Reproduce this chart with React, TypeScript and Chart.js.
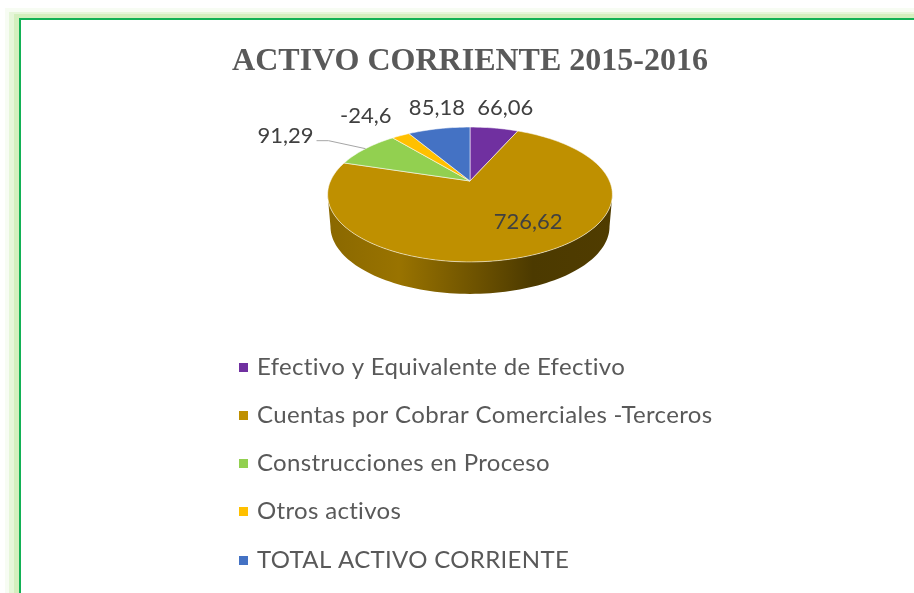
import React, { useEffect, useRef } from "react";
import { Chart, registerables, PieController, ArcElement } from "chart.js";

const TITLE = "ACTIVO CORRIENTE 2015-2016";
const categories = [
  "Efectivo y Equivalente de Efectivo",
  "Cuentas por Cobrar Comerciales -Terceros",
  "Construcciones en Proceso",
  "Otros activos",
  "TOTAL ACTIVO CORRIENTE",
];
const values = [66.06, 726.62, 91.29, -24.6, 85.18];
const colors = ["#7030A0", "#BF9000", "#92D050", "#FFC000", "#4472C4"];
const labelOffsets = [[11, -20], [-12.5, -31], [-80, -12.6], [-35, -20], [-2, -20.6]];

const PERSPECTIVE = 0.2;
const SQUASH = 0.464;
const DEPTH = 32;
const BOTTOM_SHRINK = 0.98;
const wallShades: [number, number][] = [[0, 0.72], [0.25, 0.8], [0.55, 0.55], [0.72, 0.4], [1, 0.42]];

function project(el: any, a: number, r = 1, depth = 0) {
  const u = r * Math.cos(a), v = r * Math.sin(a), w = 1 - PERSPECTIVE * v;
  const s = depth ? BOTTOM_SHRINK : 1;
  return { x: el.x + (el.outerRadius * u * s) / w, y: el.y + (SQUASH * el.outerRadius * v) / w + depth };
}
function traceArc(ctx: CanvasRenderingContext2D, el: any, a0: number, a1: number, depth: number, move: boolean) {
  const n = Math.max(2, Math.ceil(Math.abs(a1 - a0) / 0.03));
  for (let i = 0; i <= n; i++) {
    const p = project(el, a0 + ((a1 - a0) * i) / n, 1, depth);
    if (i === 0 && move) ctx.moveTo(p.x, p.y);
    else ctx.lineTo(p.x, p.y);
  }
}
function shade(hex: string, f: number) {
  const n = parseInt(hex.slice(1), 16);
  return `rgb(${((n >> 16) & 255) * f},${((n >> 8) & 255) * f},${(n & 255) * f})`;
}
function marker(color: string) {
  const c = document.createElement("canvas");
  c.width = 9;
  c.height = 9;
  const g = c.getContext("2d") as CanvasRenderingContext2D;
  g.fillStyle = color;
  g.fillRect(0, 0, 9, 9);
  return c;
}

class Arc3D extends ArcElement {
  static id = "arc3d";
  draw(ctx: CanvasRenderingContext2D) {
    const el: any = this;
    const o = el.options;
    ctx.save();
    ctx.beginPath();
    ctx.moveTo(el.x, el.y);
    traceArc(ctx, el, el.startAngle, el.endAngle, 0, false);
    ctx.closePath();
    ctx.fillStyle = o.backgroundColor;
    ctx.fill();
    ctx.strokeStyle = o.borderColor;
    ctx.lineWidth = o.borderWidth;
    ctx.lineJoin = "round";
    ctx.stroke();
    ctx.restore();
  }
  drawWall(ctx: CanvasRenderingContext2D) {
    const el: any = this;
    const lo = Math.asin(PERSPECTIVE), hi = Math.PI - lo;
    const a0 = Math.max(el.startAngle, lo), a1 = Math.min(el.endAngle, hi);
    if (a1 <= a0) return;
    const left = project(el, hi).x, right = project(el, lo).x;
    const g = ctx.createLinearGradient(left, 0, right, 0);
    wallShades.forEach(([t, f]) => g.addColorStop(t, shade(el.options.backgroundColor, f)));
    ctx.save();
    ctx.beginPath();
    traceArc(ctx, el, a0, a1, 0, true);
    traceArc(ctx, el, a1, a0, DEPTH, false);
    ctx.closePath();
    ctx.fillStyle = g;
    ctx.fill();
    ctx.restore();
  }
}
class Pie3D extends PieController {
  static id = "pie3d";
  static defaults = { dataElementType: "arc3d" };
}

const framePlugin = {
  id: "frame",
  beforeDraw(chart: any) {
    const { ctx, width, height } = chart;
    const layers: [number, number, string][] = [
      [0, 0, "#ffffff"], [5, 8, "#f7fcf3"], [9, 12, "#e6f6d9"], [14, 14, "#d4efbe"], [19, 18, "#12b155"],
    ];
    ctx.save();
    layers.forEach(([x, y, c]) => {
      ctx.fillStyle = c;
      ctx.fillRect(x, y, width - x, height - y);
    });
    ctx.fillStyle = "#ffffff";
    ctx.fillRect(21, 20, width - 21, height - 20);
    ctx.restore();
  },
};

const wallPlugin = {
  id: "walls",
  beforeDatasetsDraw(chart: any) {
    chart.getDatasetMeta(0).data.forEach((el: any) => el.drawWall(chart.ctx));
  },
};

const placePlugin = {
  id: "place",
  afterLayout(chart: any) {
    const l = chart.legend, pad = l.options.labels.padding;
    l.left = 242 - pad; l.right = chart.width;
    l.top = 355 - pad; l.bottom = chart.height + 100;
    l.width = l.right - l.left; l.height = l.bottom - l.top;
    if (!l.__spaced) {
      const original = l.draw;
      l.draw = function () {
        (chart.ctx as any).letterSpacing = "0.33px";
        original.call(l);
        (chart.ctx as any).letterSpacing = "0px";
      };
      l.__spaced = true;
    }
    const t = chart.titleBlock;
    t.left = 0; t.right = 940; t.width = 940;
    t.top = 42.5; t.bottom = t.top + t.height;
  },
};

const labelPlugin = {
  id: "sliceLabels",
  afterDatasetsDraw(chart: any) {
    const { ctx } = chart;
    const arcs = chart.getDatasetMeta(0).data;
    ctx.save();
    arcs.forEach((el: any, i: number) => {
      const mid = (el.startAngle + el.endAngle) / 2;
      const p = project(el, mid);
      if (categories[i] === "Construcciones en Proceso") {
        ctx.strokeStyle = "#a6a6a6";
        ctx.lineWidth = 1;
        ctx.beginPath();
        ctx.moveTo(p.x, p.y);
        ctx.lineTo(p.x - 37, p.y - 8);
        ctx.lineTo(p.x - 49, p.y - 8);
        ctx.stroke();
      }
      ctx.fillStyle = "#404040";
      ctx.font = "22px Lato";
      ctx.textAlign = "center";
      ctx.textBaseline = "middle";
      ctx.fillText(String(values[i]).replace(".", ","), p.x + labelOffsets[i][0], p.y + labelOffsets[i][1]);
    });
    ctx.restore();
  },
};

Chart.register(...registerables, Arc3D as any, Pie3D as any);

export default function App() {
  const ref = useRef<HTMLCanvasElement>(null);
  useEffect(() => {
    const chart = new Chart(ref.current as HTMLCanvasElement, {
      type: "pie3d" as any,
      data: {
        labels: categories,
        datasets: [{
          data: values,
          backgroundColor: colors,
          borderColor: "rgba(255,255,255,0.55)",
          borderWidth: 1,
        }],
      },
      options: {
        responsive: false,
        animation: false,
        layout: { padding: { left: 320, right: 304, top: 2.6, bottom: 272 } },
        plugins: {
          tooltip: { enabled: false },
          title: {
            display: true,
            text: TITLE,
            color: "#595959",
            font: { family: "'Liberation Serif'", size: 32, weight: "bold" },
            padding: 0,
          },
          legend: {
            position: "left",
            align: "start",
            maxWidth: 10,
            labels: {
              usePointStyle: true,
              pointStyleWidth: 3,
              boxHeight: 9,
              padding: 24.25,
              color: "#595959",
              font: { family: "Lato", size: 24 },
              generateLabels: (c: any) =>
                c.data.labels.map((text: string, i: number) => ({
                  text, fillStyle: colors[i], strokeStyle: colors[i], lineWidth: 0,
                  pointStyle: marker(colors[i]),
                  index: i, hidden: false, fontColor: "#595959",
                })),
            },
          },
        },
      } as any,
      plugins: [framePlugin, wallPlugin, placePlugin, labelPlugin],
    });
    return () => chart.destroy();
  }, []);
  return (
    <div style={{ position: "fixed", left: 0, top: 0, width: 914, height: 593, overflow: "hidden", background: "#fff" }}>
      <canvas ref={ref} width={914} height={593} style={{ display: "block" }} />
    </div>
  );
}
